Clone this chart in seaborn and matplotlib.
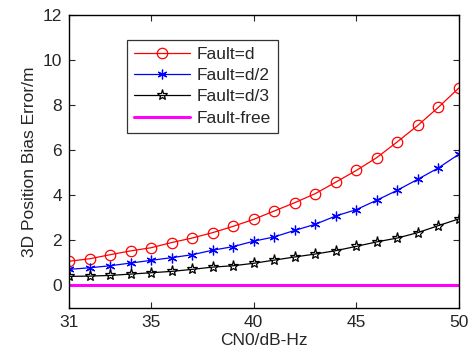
import numpy as np
import pandas as pd
import matplotlib
matplotlib.use("Agg")
import matplotlib.pyplot as plt
import seaborn as sns

cn0 = list(range(31, 51))
fault_d = [1.07, 1.18, 1.36, 1.53, 1.67, 1.90, 2.10, 2.34, 2.62, 2.93,
           3.30, 3.67, 4.07, 4.58, 5.10, 5.67, 6.37, 7.10, 7.90, 8.76]
fault_d2 = [0.71, 0.78, 0.87, 0.99, 1.11, 1.23, 1.36, 1.56, 1.72, 1.96,
            2.15, 2.44, 2.71, 3.08, 3.36, 3.78, 4.22, 4.71, 5.21, 5.82]
fault_d3 = [0.40, 0.41, 0.44, 0.50, 0.56, 0.62, 0.71, 0.81, 0.87, 0.98,
            1.12, 1.26, 1.39, 1.54, 1.73, 1.93, 2.10, 2.34, 2.65, 2.95]
fault_free = [0.0] * len(cn0)

sns.set_style("ticks")
plt.rcParams["font.family"] = ["Liberation Sans", "DejaVu Sans"]
fs = 12.5

fig = plt.figure(figsize=(4.73, 3.58), dpi=100)
ax = fig.add_axes([0.146, 0.14, 0.824, 0.818])

df = pd.DataFrame({"x": cn0, "d": fault_d, "d2": fault_d2,
                   "d3": fault_d3, "free": fault_free})

sns.lineplot(data=df, x="x", y="d", ax=ax, color="red", lw=0.9,
             marker="o", markersize=7.5, markerfacecolor="none",
             markeredgecolor="red", markeredgewidth=0.9, label="Fault=d")
sns.lineplot(data=df, x="x", y="d2", ax=ax, color="blue", lw=0.9,
             marker=(6, 2, 0), markersize=7, markeredgecolor="blue",
             markeredgewidth=0.9, label="Fault=d/2")
sns.lineplot(data=df, x="x", y="d3", ax=ax, color="black", lw=0.9,
             marker="*", markersize=8, markerfacecolor="none",
             markeredgecolor="black", markeredgewidth=0.9, label="Fault=d/3")
sns.lineplot(data=df, x="x", y="free", ax=ax, color="magenta", lw=2.2,
             label="Fault-free")

ax.set_xlim(31, 50)
ax.set_ylim(-1, 12)
ax.set_xticks([31, 35, 40, 45, 50])
ax.set_yticks([0, 2, 4, 6, 8, 10, 12])
ax.tick_params(direction="in", top=True, right=True, length=4, width=0.8,
               labelsize=fs, pad=5)
for s in ax.spines.values():
    s.set_linewidth(1.0)
    s.set_color("black")

ax.set_xlabel("CN0/dB-Hz", fontsize=fs, labelpad=2)
ax.set_ylabel("3D Position Bias Error/m", fontsize=fs, labelpad=4)

leg = ax.legend(loc="upper left", bbox_to_anchor=(0.149, 0.915), fontsize=fs,
                frameon=True, fancybox=False, edgecolor="black",
                borderaxespad=0, handlelength=3.2, handletextpad=0.4,
                borderpad=0.4, labelspacing=0.35)
leg.get_frame().set_linewidth(0.9)

fig.savefig("out.png", dpi=100)
